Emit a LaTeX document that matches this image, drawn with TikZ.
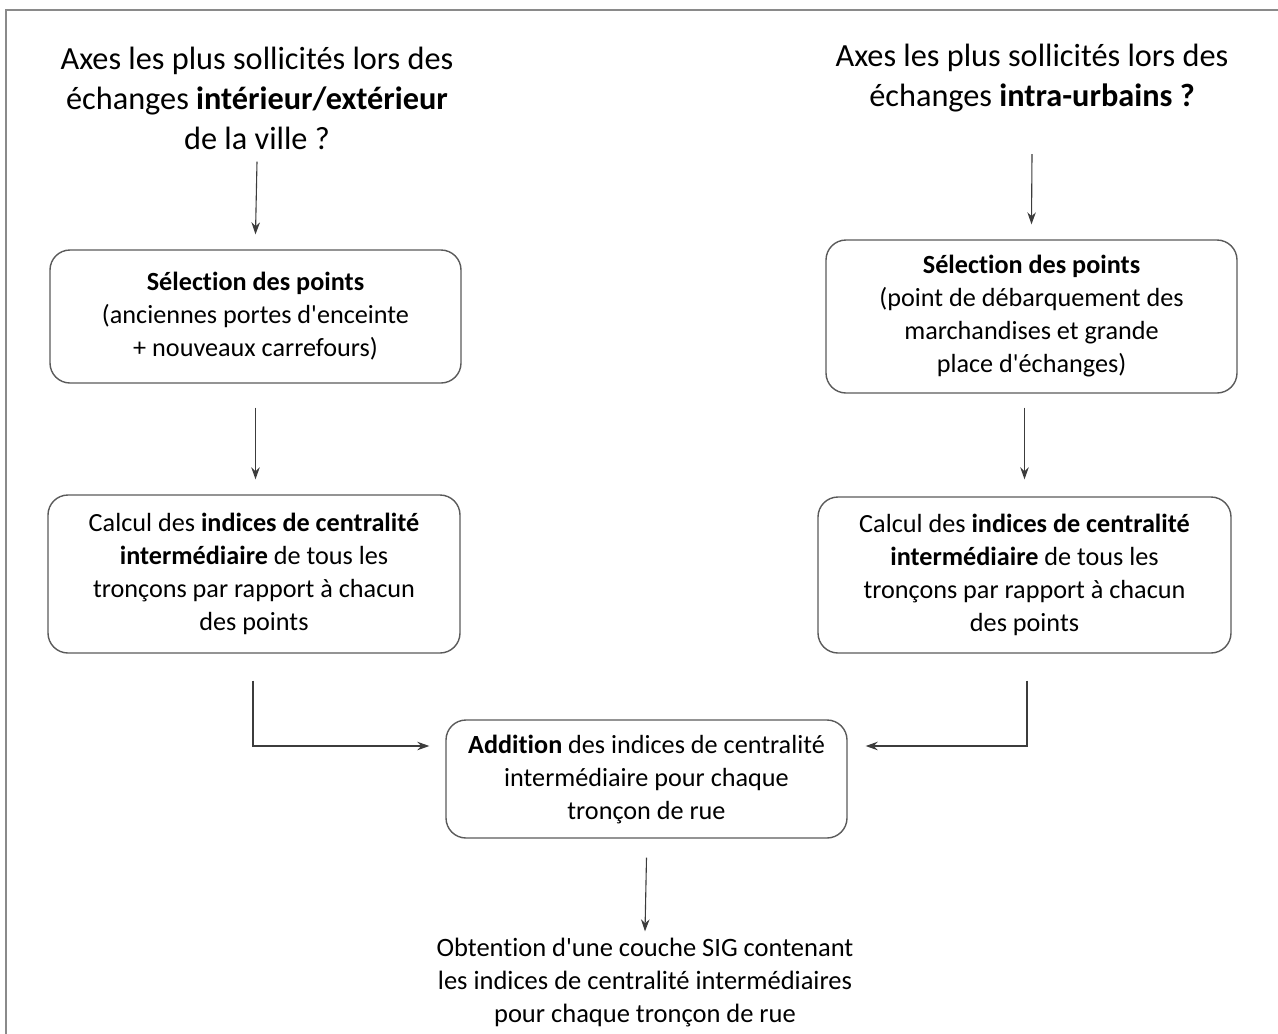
\documentclass[tikz,border=0pt]{standalone}
\usepackage{fontspec}
\newfontfamily\carlito{Carlito}[Ligatures=CommonOff]
\usepackage{tikz}
\usetikzlibrary{arrows.meta, positioning, calc}
\usepackage{xcolor}
\definecolor{boxgray}{HTML}{5A5A5A}
\definecolor{linegray}{HTML}{3C3C3C}
\definecolor{framegray}{HTML}{8A8A8A}

\begin{document}
\begin{tikzpicture}[x=1pt, y=-1pt,
    titre/.style={align=center, font=\carlito\fontsize{32.3}{40}\selectfont, inner sep=0pt},
    etape/.style={draw=boxgray, line width=1.4pt, rounded corners=20pt, align=center,
                  font=\carlito\fontsize{26.2}{33}\selectfont, inner sep=0pt},
    fleche/.style={draw=linegray, line width=1.1pt, -{Stealth[length=12pt, width=8.5pt]}}]
        \useasboundingbox (0,0) rectangle (1278,1034);
        % cadre
        \draw[framegray, line width=2pt] (6,1034)--(6,10)--(1278,10);
        % questions
        \node[titre] (tl) at (257,98) {Axes les plus sollicités lors des\\échanges \textbf{intérieur/extérieur}\\de la ville ?};
        \node[titre] (tr) at (1032,78) {Axes les plus sollicités lors des\\échanges \textbf{intra-urbains ?}};
        % selection des points
        \node[etape, minimum width=411pt, minimum height=133pt] (sl) at (255.5,316.5) {\textbf{Sélection des points}\\(anciennes portes d'enceinte\\+ nouveaux carrefours)};
        \node[etape, minimum width=411pt, minimum height=153pt] (sr) at (1031.5,316.5) {\textbf{Sélection des points}\\(point de débarquement des\\marchandises et grande\\place d'échanges)};
        % calcul des indices
        \node[etape, minimum width=412pt, minimum height=158pt] (cl) at (254,574) {Calcul des \textbf{indices de centralité}\\\textbf{intermédiaire} de tous les\\tronçons par rapport à chacun\\des points};
        \node[etape, minimum width=413pt, minimum height=156pt] (cr) at (1024.5,575) {Calcul des \textbf{indices de centralité}\\\textbf{intermédiaire} de tous les\\tronçons par rapport à chacun\\des points};
        % addition
        \node[etape, minimum width=401pt, minimum height=118pt] (add) at (646.5,779) {\textbf{Addition} des indices de centralité\\intermédiaire pour chaque\\tronçon de rue};
        \node[titre, font=\carlito\fontsize{26.5}{33}\selectfont] (res) at (645,983) {Obtention d'une couche SIG contenant\\les indices de centralité intermédiaires\\pour chaque tronçon de rue};
        % fleches
        \draw[fleche] ([yshift=-12pt]tl.south) -- ([yshift=15pt]sl.north);
        \draw[fleche] ([yshift=-42pt]tr.south) -- ([yshift=15pt]sr.north);
        \draw[fleche] ([yshift=-24pt]sl.south) -- ([yshift=15pt]cl.north -| sl.south);
        \draw[fleche] ([yshift=-14pt]sr.south -| cr.north) -- ([yshift=17pt]cr.north);
        \draw[fleche] ([xshift=-1pt,yshift=-27pt]cl.south) |- ([xshift=-16pt,yshift=33pt]add.west);
        \draw[fleche] ([xshift=2.5pt,yshift=-27pt]cr.south) |- ([xshift=18pt,yshift=33pt]add.east);
        \draw[fleche] ([yshift=-19pt]add.south) -- ([yshift=7pt]res.north);
\end{tikzpicture}
\end{document}
